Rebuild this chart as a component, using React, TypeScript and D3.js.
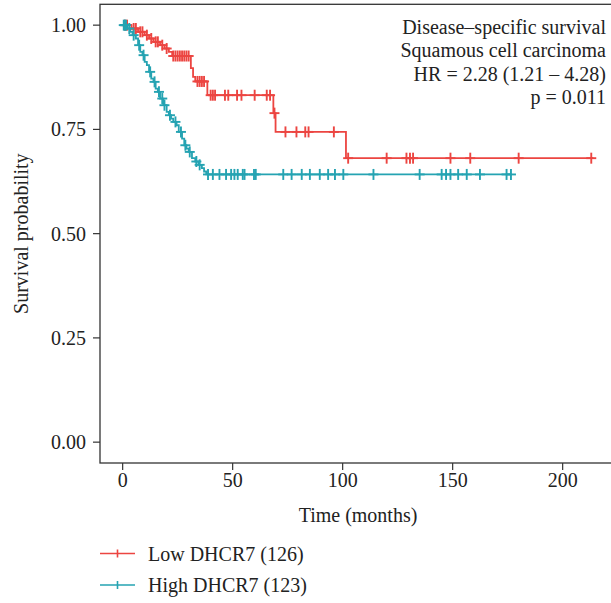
import React from 'react';
import * as d3 from 'd3';

// ---- data ----
const xTicks = [0, 50, 100, 150, 200];
const yTicks = [0, 0.25, 0.5, 0.75, 1];
const yTickLabels = ['0.00', '0.25', '0.50', '0.75', '1.00'];

// Low DHCR7: step times and survival after each step
const lowTimes = [0, 4, 7, 10, 12, 14, 17, 19, 21, 22.5, 31, 32, 33, 38.5, 68.5, 69.5, 101.5];
const lowSurv = [1.0, 0.992, 0.984, 0.976, 0.968, 0.96, 0.952, 0.944, 0.936, 0.926, 0.897, 0.876, 0.865, 0.832, 0.789, 0.744, 0.681];
const lowEnd = 214;
const lowCensor = [1, 2, 5, 6, 8, 9, 11, 13, 15, 16, 18, 20, 23, 24, 25, 26, 27, 28, 29, 30, 34, 35, 36, 37, 40, 41, 42, 46.5, 48, 52, 54, 60, 65.5, 67, 69, 74, 79, 83, 84.5, 96, 102.5, 120, 129, 130.6, 132, 149, 158, 180, 213];

// High DHCR7
const highTimes = [0, 2, 3.5, 4.5, 6, 7, 8, 9, 10, 11, 12, 13, 14, 15, 16, 17, 18.5, 20, 21, 22, 23, 24.5, 25.5, 27, 28, 29, 30, 31.5, 33, 34.5, 36, 37, 38];
const highSurv = [1.0, 0.992, 0.984, 0.976, 0.968, 0.952, 0.936, 0.928, 0.912, 0.904, 0.888, 0.872, 0.864, 0.848, 0.84, 0.824, 0.808, 0.792, 0.784, 0.776, 0.768, 0.76, 0.744, 0.728, 0.712, 0.704, 0.696, 0.681, 0.673, 0.665, 0.657, 0.649, 0.642];
const highEnd = 176.5;
const highCensor = [0.5, 1, 1.5, 3, 5, 7.5, 9.5, 12.5, 14.5, 16.5, 18, 19, 21.5, 24, 26.5, 28.5, 30.5, 33.5, 35, 38.8, 41, 44, 47, 49.3, 50.8, 52.3, 54.6, 55.4, 59.7, 60.5, 73, 76.8, 81.4, 85.1, 89.6, 93.4, 96.5, 100.3, 114, 135, 145, 147, 149, 152.5, 156.4, 162.4, 174.5, 176.5];

const annotation = ['Disease\u2013specific survival', 'Squamous cell carcinoma', 'HR = 2.28 (1.21 \u2013 4.28)', 'p = 0.011'];
const legendLabels = ['Low DHCR7 (126)', 'High DHCR7 (123)'];
const seriesColors = ['#EC4541', '#25A3B2'];
const xTitle = 'Time (months)';
const yTitle = 'Survival probability';

const W = 611;
const H = 603;
const FONT = '"Liberation Serif", "Times New Roman", serif';
const TXT = '#222';
const FS = 20;

const x = d3.scaleLinear().domain([-10.3, 225]).range([100, 100 + 235.3 * 2.2]);
const y = d3.scaleLinear().domain([-0.05, 1.05]).range([463, 4.3]);

function survAt(times: number[], surv: number[], t: number) {
  let s = surv[0];
  for (let i = 0; i < times.length; i++) if (times[i] <= t) s = surv[i];
  return s;
}

const stepLine = d3
  .line<[number, number]>()
  .x((d) => x(d[0]))
  .y((d) => y(d[1]))
  .curve(d3.curveStepAfter);

function Curve({ times, surv, end, censor, color }: any) {
  const pts: [number, number][] = times.map((t: number, i: number) => [t, surv[i]]);
  pts.push([end, surv[surv.length - 1]]);
  return (
    <g>
      <path d={stepLine(pts) || ''} fill="none" stroke={color} strokeWidth={1.8} />
      {censor.map((t: number, i: number) => {
        const cx = x(t);
        const cy = y(survAt(times, surv, t));
        return (
          <g key={i} stroke={color} strokeWidth={1.9}>
            <line x1={cx - 5} x2={cx + 5} y1={cy} y2={cy} />
            <line x1={cx} x2={cx} y1={cy - 5.5} y2={cy + 5.5} />
          </g>
        );
      })}
    </g>
  );
}

export default function App() {
  const [x0, x1] = x.range();
  const [yb, yt] = y.range();
  return (
    <svg width={W} height={H} style={{ position: 'absolute', left: 0, top: 0, background: '#fff' }} fontFamily={FONT}>
      <rect x={0} y={0} width={W} height={H} fill="#fff" />
      <Curve times={lowTimes} surv={lowSurv} end={lowEnd} censor={lowCensor} color={seriesColors[0]} />
      <Curve times={highTimes} surv={highSurv} end={highEnd} censor={highCensor} color={seriesColors[1]} />
      <rect x={x0} y={yt} width={x1 - x0} height={yb - yt} fill="none" stroke="#333" strokeWidth={1.3} />
      {yTicks.map((v, i) => (
        <g key={i}>
          <line x1={x0 - 7} x2={x0} y1={y(v)} y2={y(v)} stroke="#333" strokeWidth={1.2} />
          <text x={x0 - 14} y={y(v)} dy="0.35em" textAnchor="end" fontSize={FS} fill={TXT}>
            {yTickLabels[i]}
          </text>
        </g>
      ))}
      {xTicks.map((v, i) => (
        <g key={i}>
          <line x1={x(v)} x2={x(v)} y1={yb} y2={yb + 7} stroke="#333" strokeWidth={1.2} />
          <text x={x(v)} y={487} textAnchor="middle" fontSize={FS} fill={TXT}>
            {v}
          </text>
        </g>
      ))}
      <text x={358} y={522} textAnchor="middle" fontSize={FS} fill={TXT}>
        {xTitle}
      </text>
      <text transform={`translate(28,${(yt + yb) / 2}) rotate(-90)`} textAnchor="middle" fontSize={FS} fill={TXT}>
        {yTitle}
      </text>
      {annotation.map((t, i) => (
        <text key={i} x={606} y={34 + i * 23.4} textAnchor="end" fontSize={FS} fill={TXT}>
          {t}
        </text>
      ))}
      {legendLabels.map((t, i) => {
        const ly = 553.5 + i * 31.5;
        return (
          <g key={i}>
            <line x1={100} x2={135} y1={ly} y2={ly} stroke={seriesColors[i]} strokeWidth={1.6} />
            <line x1={117.5} x2={117.5} y1={ly - 4} y2={ly + 4} stroke={seriesColors[i]} strokeWidth={1.6} />
            <text x={148} y={ly} dy="0.35em" fontSize={FS} fill={TXT}>
              {t}
            </text>
          </g>
        );
      })}
    </svg>
  );
}
